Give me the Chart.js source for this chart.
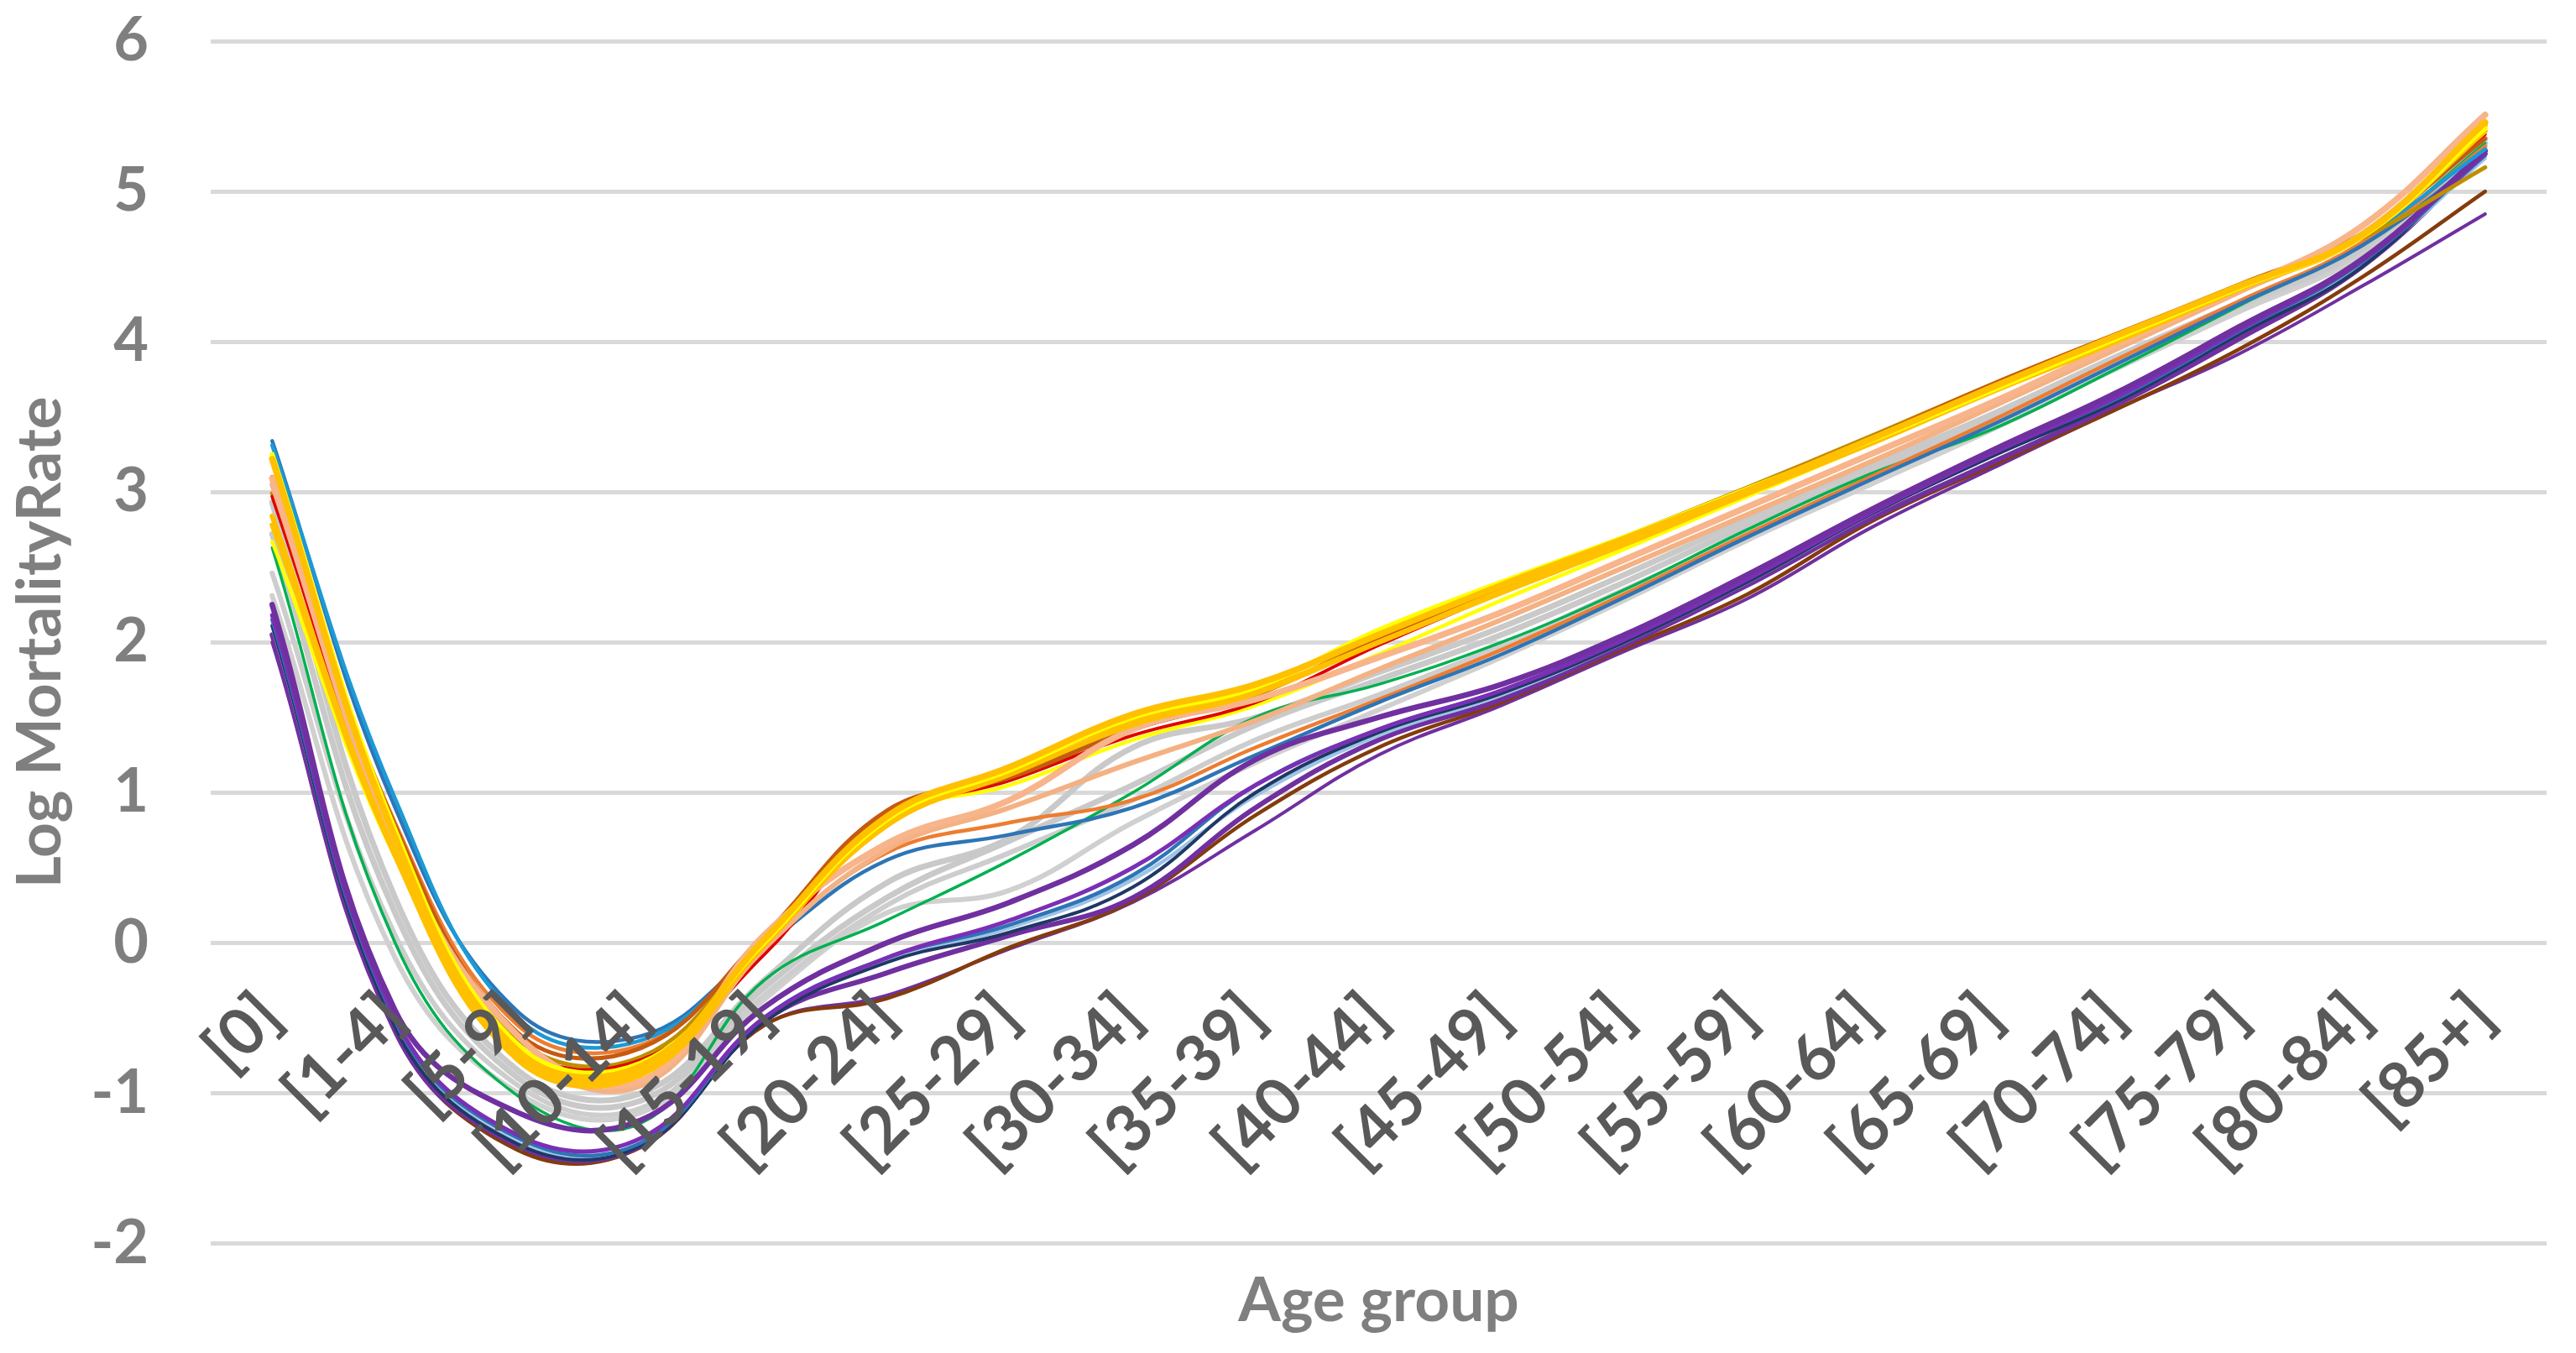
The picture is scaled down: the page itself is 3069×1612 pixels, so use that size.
<!DOCTYPE html>
<html>
<head>
<meta charset="utf-8">
<title>Log mortality rate by age group</title>
<script src="https://cdn.jsdelivr.net/npm/chart.js"></script>
<style>
  html, body { margin: 0; padding: 0; background: #ffffff; }
  canvas { display: block; }
</style>
</head>
<body>
<canvas id="myChart" width="3069" height="1612"></canvas>
<script>

    let ageGroups=['[0]','[1-4]','[5-9]','[10-14]','[15-19]','[20-24]','[25-29]','[30-34]','[35-39]',
        '[40-44]','[45-49]','[50-54]','[55-59]','[60-64]','[65-69]','[70-74]','[75-79]','[80-84]','[85+]'];

    let yRange=[-2,6];

    // upper band
    let seriesA1=[3.31,0.96,-0.50,-0.65,0.02,0.86,1.12,1.42,1.65,2.02,2.36,2.68,3.00,3.34,3.68,4.02,4.36,4.70,5.28];
    let seriesA2=[3.25,0.75,-0.68,-0.80,0.00,0.82,1.15,1.50,1.70,2.08,2.40,2.70,3.02,3.34,3.68,4.02,4.36,4.70,5.42];
    let seriesA3=[3.22,0.70,-0.72,-0.82,0.02,0.84,1.17,1.52,1.72,2.05,2.38,2.69,3.01,3.35,3.70,4.04,4.37,4.71,5.46];
    let seriesA4=[3.10,0.78,-0.60,-0.70,0.05,0.88,1.10,1.42,1.65,2.02,2.36,2.68,3.02,3.36,3.72,4.05,4.38,4.72,5.35];
    let seriesA5=[3.09,0.68,-0.62,-0.92,0.05,0.66,0.95,1.42,1.62,1.90,2.20,2.55,2.90,3.25,3.60,3.98,4.35,4.77,5.51];
    let seriesA6=[2.97,0.63,-0.68,-0.78,-0.08,0.82,1.08,1.38,1.60,1.98,2.33,2.66,3.00,3.33,3.68,4.02,4.36,4.70,5.38];
    let seriesA7=[2.99,0.72,-0.64,-0.76,0.03,0.86,1.12,1.45,1.66,2.03,2.37,2.70,3.03,3.37,3.72,4.05,4.37,4.69,5.16];
    let seriesA8=[2.84,0.60,-0.75,-0.85,0.00,0.80,1.16,1.48,1.68,2.00,2.34,2.66,3.00,3.33,3.68,4.01,4.35,4.70,5.44];
    let seriesA9=[2.78,0.58,-0.78,-0.88,-0.02,0.78,1.12,1.45,1.66,2.00,2.33,2.65,2.99,3.32,3.67,4.00,4.35,4.70,5.40];
    let seriesA10=[2.67,0.57,-0.70,-0.82,0.00,0.83,1.05,1.35,1.58,1.92,2.28,2.62,2.97,3.32,3.68,4.02,4.36,4.70,5.40];
    let seriesA11=[3.05,0.65,-0.70,-0.95,-0.04,0.62,0.90,1.20,1.48,1.82,2.15,2.50,2.85,3.20,3.57,3.95,4.33,4.72,5.45];

    // middle band
    let seriesB1=[3.34,0.90,-0.46,-0.62,-0.02,0.55,0.72,0.90,1.25,1.60,1.92,2.30,2.70,3.08,3.45,3.85,4.25,4.64,5.24];
    let seriesB2=[3.05,0.80,-0.55,-0.68,0.00,0.60,0.80,0.95,1.30,1.62,1.95,2.32,2.72,3.10,3.48,3.88,4.27,4.66,5.30];
    let seriesB3=[2.93,0.30,-0.85,-1.00,-0.25,0.40,0.70,1.30,1.50,1.80,2.10,2.45,2.82,3.17,3.52,3.90,4.26,4.62,5.35];
    let seriesB4=[2.72,0.20,-0.90,-1.05,-0.30,0.30,0.68,1.05,1.45,1.75,2.05,2.40,2.78,3.13,3.50,3.88,4.25,4.62,5.32];
    let seriesB5=[2.46,0.05,-0.95,-1.10,-0.35,0.25,0.60,0.95,1.35,1.65,1.98,2.35,2.72,3.10,3.47,3.86,4.23,4.60,5.30];
    let seriesB6=[2.31,-0.10,-1.00,-1.13,-0.38,0.20,0.35,0.80,1.20,1.55,1.90,2.28,2.68,3.05,3.42,3.82,4.20,4.58,5.28];
    let seriesB7=[2.63,0.00,-1.02,-1.20,-0.25,0.15,0.55,1.00,1.50,1.72,2.00,2.35,2.75,3.12,3.42,3.82,4.24,4.66,5.32];

    // lower band
    let seriesC1=[2.25,-0.45,-1.13,-1.18,-0.43,0.00,0.27,0.65,1.22,1.50,1.72,2.05,2.45,2.88,3.28,3.66,4.10,4.55,5.27];
    let seriesC2=[2.18,-0.50,-1.28,-1.30,-0.50,-0.10,0.15,0.50,1.05,1.42,1.68,2.02,2.42,2.86,3.26,3.63,4.08,4.54,5.25];
    let seriesC3=[2.11,-0.55,-1.33,-1.34,-0.52,-0.12,0.10,0.42,0.98,1.38,1.65,2.00,2.40,2.85,3.25,3.62,4.06,4.52,5.22];
    let seriesC4=[2.11,-0.56,-1.34,-1.35,-0.53,-0.13,0.07,0.37,1.00,1.40,1.66,2.00,2.40,2.85,3.24,3.60,4.05,4.50,5.28];
    let seriesC5=[2.15,-0.52,-1.30,-1.33,-0.50,-0.10,0.12,0.45,1.05,1.42,1.68,2.02,2.43,2.87,3.27,3.62,4.07,4.53,5.24];
    let seriesC6=[2.05,-0.58,-1.35,-1.35,-0.52,-0.20,0.05,0.30,0.90,1.35,1.62,1.98,2.38,2.82,3.20,3.58,4.02,4.50,5.25];
    let seriesC7=[2.05,-0.57,-1.38,-1.36,-0.55,-0.37,-0.03,0.28,0.85,1.30,1.60,1.96,2.32,2.80,3.18,3.55,3.95,4.43,5.00];
    let seriesC8=[2.00,-0.60,-1.37,-1.36,-0.55,-0.35,-0.04,0.27,0.75,1.25,1.58,1.94,2.29,2.76,3.16,3.55,3.92,4.37,4.85];

    // drawing order: first entry ends up on top
    let allSeries=[
        seriesA3,seriesA2,seriesA8,seriesA9,seriesA5,seriesA11,seriesA4,seriesA6,seriesA7,seriesA10,seriesA1,
        seriesC1,seriesC2,seriesC5,seriesC4,seriesC3,seriesC6,seriesC7,seriesC8,
        seriesB1,seriesB2,seriesB7,seriesB3,seriesB4,seriesB5,seriesB6
    ];
    let lineColors=[
        "#FFC000","#FFFF00","#FFC000","#FFC000","#F8B48A","#F4B183","#C55A11","#E00000","#BF8F00","#FFFF00","#1B9AD6",
        "#7030A0","#7B2FB5","#2E75B6","#1F3864","#9DC3E6","#7030A0","#843C0C","#7030A0",
        "#2E75B6","#ED7D31","#00B050","#C9C9C9","#C9C9C9","#CDCDCD","#D0D0D0"
    ];
    let lineWidths=[
        7.5,6,6,6,7.5,6,5,4,5,4.5,4.5,
        6.5,5,4.5,4,4.5,6,4.5,4,
        4.5,4.5,3.5,7,7,6,6
    ];

    let fontFamily="Lato, 'Open Sans', sans-serif";

    let myChart=document.getElementById('myChart').getContext('2d');

    let lineChart=new Chart(myChart, {
    type:'line',
    data:{
    labels:ageGroups,
    datasets:allSeries.map((values,i)=>({
        data:values,
        borderColor:lineColors[i],
        backgroundColor:lineColors[i],
        borderWidth:lineWidths[i],
        fill:false
    }))
    },
    options:{
        responsive:false,
        animation:false,
        devicePixelRatio:1,
        layout:{padding:{top:49,right:32,left:0,bottom:0}},
        elements:{
            point:{radius:0,hoverRadius:0},
            line:{tension:0.4,borderCapStyle:'round',borderJoinStyle:'round'}
        },
        plugins:{
            legend:{display:false},
            tooltip:{enabled:false},
            title:{
                display:true,
                position:'bottom',
                fullSize:false,
                text:'Age group',
                color:'#7F7F7F',
                font:{family:fontFamily,size:73,weight:'bold'},
                padding:{top:25,bottom:18}
            }
        },
        scales:{
            x:{
                position:{y:0},
                offset:true,
                grid:{display:false,drawTicks:false},
                border:{display:false},
                ticks:{
                    z:1,
                    autoSkip:false,
                    minRotation:45,
                    maxRotation:45,
                    padding:42,
                    labelOffset:-2,
                    color:'#595959',
                    font:{family:fontFamily,size:77,weight:'bold'}
                },
                afterFit:(scale)=>{ scale.height=0; }
            },
            y:{
                min:yRange[0],
                max:yRange[1],
                ticks:{
                    stepSize:1,
                    padding:74,
                    color:'#7F7F7F',
                    font:{family:fontFamily,size:72,weight:'bold'}
                },
                grid:{color:'#D9D9D9',lineWidth:5,drawTicks:false},
                border:{display:false},
                title:{
                    display:true,
                    text:'Log MortalityRate',
                    color:'#7F7F7F',
                    font:{family:fontFamily,size:73,weight:'bold'},
                    padding:{top:5,bottom:5}
                },
                afterFit:(scale)=>{
                    scale.width=251;
                    scale.paddingTop=0;
                    scale.paddingBottom=0;
                }
            }
        }
    },
    });

</script>
</body>
</html>
